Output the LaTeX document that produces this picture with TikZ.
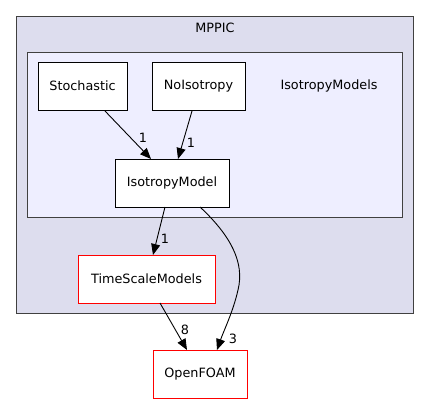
\documentclass[tikz,border=0pt]{standalone}
\usepackage{fontspec}
\setmainfont{DejaVu Sans}
\usetikzlibrary{arrows.meta}
\definecolor{outerfill}{HTML}{DDDDEE}
\definecolor{innerfill}{HTML}{EEEEFF}
\definecolor{bordergray}{HTML}{404040}
\tikzset{
  cluster/.style={draw=bordergray, line width=0.9pt},
  dirbox/.style={draw=black, fill=white, line width=0.8pt, minimum height=48pt, inner sep=0pt, font=\fontsize{12.8}{15}\selectfont},
  extbox/.style={draw=red, fill=white, line width=0.8pt, minimum height=48pt, inner sep=0pt, font=\fontsize{12.8}{15}\selectfont},
  dep/.style={draw=black, line width=0.9pt, -{Triangle[length=11pt,width=9pt]}},
  lbl/.style={font=\fontsize{12.8}{15}\selectfont, inner sep=0pt},
}
\begin{document}
\begin{tikzpicture}[x=1pt,y=-1pt]
\useasboundingbox (0,0) rectangle (429,404);
\filldraw[cluster, fill=outerfill] (16,16) rectangle (413,313);
\node[lbl] (mppic) at (215,28) {MPPIC};
\filldraw[cluster, fill=innerfill] (27,52) rectangle (402,217);
\node[lbl] (isolabel) at (329,86) {IsotropyModels};
\node[dirbox, minimum width=89pt] (stoch) at (82.5,86) {Stochastic};
\node[dirbox, minimum width=93pt] (noiso) at (198.5,86) {NoIsotropy};
\node[dirbox, minimum width=114pt] (isom) at (172,183) {IsotropyModel};
\node[extbox, minimum width=137pt] (tsm) at (146.5,279) {TimeScaleModels};
\node[extbox, minimum width=94pt] (of) at (200,374) {OpenFOAM};
\draw[dep] (105,111) -- (151,159);
\node[lbl] (l1) at (143,138) {1};
\draw[dep] (192,111) -- (178,159);
\node[lbl] (l2) at (191,143) {1};
\draw[dep] (165,207) -- (153,255);
\node[lbl] (l3) at (165,239) {1};
\draw[dep] (160,303) -- (187,350);
\node[lbl] (l4) at (185,330) {8};
\draw[dep] (200,207) .. controls (230,235) and (245,262) .. (238,290) .. controls (233,312) and (224,330) .. (217,350);
\node[lbl] (l5) at (233,339) {3};
\end{tikzpicture}
\end{document}
